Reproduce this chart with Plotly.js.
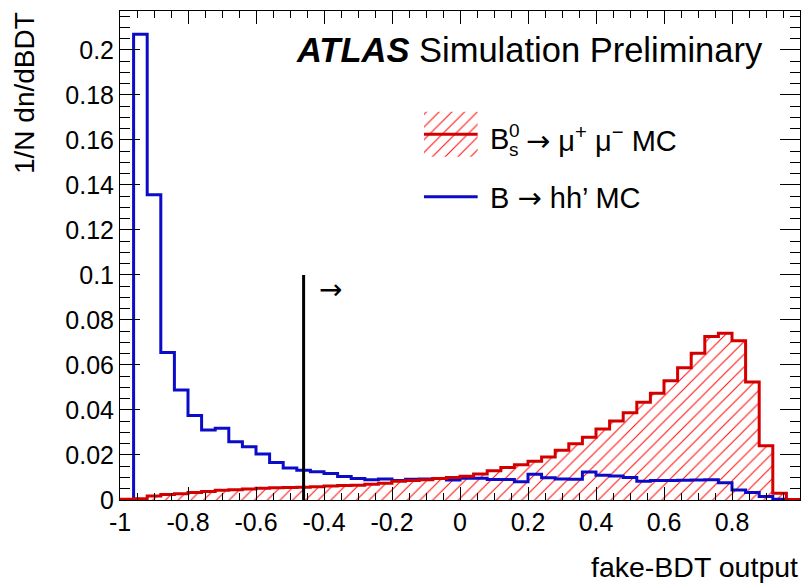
<!DOCTYPE html>
<html>
<head>
<meta charset="utf-8">
<script src="https://cdn.plot.ly/plotly-3.0.1.min.js"></script>
<style>html,body{margin:0;padding:0;background:#fff;}</style>
</head>
<body>
<div id="chart" style="width:803px;height:584px;"></div>
<script>
// ---- data ----
const binLow = -1;
const binWidth = 0.04;
// B_s^0 -> mu+ mu- MC (red, hatched), 50 bins from -1 to 1
const bsmumu = [0.0003,0.0005,0.0018,0.0024,0.0028,0.0033,0.0038,0.0043,0.0046,0.0049,
                0.0052,0.0054,0.0055,0.0057,0.0059,0.0062,0.0064,0.0066,0.0070,0.0074,
                0.0083,0.0087,0.0090,0.0096,0.0100,0.0105,0.0116,0.0130,0.0144,0.0157,
                0.0172,0.0191,0.0221,0.0250,0.0279,0.0316,0.0351,0.0388,0.0434,0.0474,
                0.0530,0.0588,0.0652,0.0726,0.0741,0.0708,0.0524,0.0241,0.0030,0.0002];
// B -> hh' MC (blue)
const bhh = [0.0000,0.2070,0.1356,0.0655,0.0489,0.0375,0.0311,0.0319,0.0259,0.0237,
             0.0204,0.0167,0.0142,0.0132,0.0125,0.0118,0.0104,0.0095,0.0090,0.0093,
             0.0087,0.0092,0.0093,0.0095,0.0089,0.0097,0.0097,0.0091,0.0091,0.0081,
             0.0114,0.0099,0.0093,0.0092,0.0124,0.0110,0.0107,0.0100,0.0083,0.0087,
             0.0087,0.0088,0.0089,0.0090,0.0077,0.0044,0.0033,0.0015,0.0003,0.0001];
const xTickVals = [-1,-0.8,-0.6,-0.4,-0.2,0,0.2,0.4,0.6,0.8,1];
const xTickText = ['-1','-0.8','-0.6','-0.4','-0.2','0','0.2','0.4','0.6','0.8','1'];
const cutValue = [-0.46];
const cutHeight = [0.1];
const ARW = '<span style="font-family:DejaVu Sans">\u2192</span>';
const seriesNames = ['B<sub>s</sub><sup>0</sup> \u2192 \u03bc<sup>+</sup> \u03bc<sup>\u2212</sup> MC', 'B ' + ARW + ' hh\u2019 MC'];

// ---- build step outlines ----
function stepXY(vals){
  const x=[binLow], y=[0];
  for(let i=0;i<vals.length;i++){ x.push(binLow+i*binWidth); y.push(vals[i]); }
  const xe = binLow+vals.length*binWidth;
  x.push(xe); y.push(vals[vals.length-1]);
  x.push(xe); y.push(0);
  return {x,y};
}
const RED='#d40000', BLUE='#0c0cc8';
const FONT='Liberation Sans, Arial, Helvetica, sans-serif';
const rs = stepXY(bsmumu), bs = stepXY(bhh);
const hatch = {shape:'/', fgcolor:'#ff1010', bgcolor:'rgba(0,0,0,0)', size:9, solidity:0.12, fillmode:'replace'};

const traces = [
  {x:rs.x, y:rs.y, mode:'lines', line:{shape:'hv', width:0, color:RED}, fill:'tozeroy',
   fillcolor:'rgba(0,0,0,0)', fillpattern:hatch, hoverinfo:'skip', showlegend:false},
  {x:bs.x, y:bs.y, mode:'lines', line:{shape:'hv', width:3, color:BLUE}, showlegend:false},
  {x:rs.x, y:rs.y, mode:'lines', line:{shape:'hv', width:3, color:RED}, showlegend:false},
  // legend keys drawn on an overlay axis (0..1 of plot area)
  {x:[0.447,0.526,0.526,0.447,0.447], y:[0.702,0.702,0.794,0.794,0.702], xaxis:'x2', yaxis:'y2',
   mode:'lines', line:{width:0}, fill:'toself', fillcolor:'rgba(0,0,0,0)', fillpattern:hatch, hoverinfo:'skip', showlegend:false},
  {x:[0.447,0.526], y:[0.748,0.748], xaxis:'x2', yaxis:'y2', mode:'lines', line:{width:3, color:RED}, hoverinfo:'skip', showlegend:false},
  {x:[0.447,0.526], y:[0.620,0.620], xaxis:'x2', yaxis:'y2', mode:'lines', line:{width:3, color:BLUE}, hoverinfo:'skip', showlegend:false}
];

const axisCommon = {
  showline:true, linecolor:'#000', linewidth:1, mirror:'allticks',
  ticks:'inside', tickcolor:'#000', tickwidth:1, showgrid:false, zeroline:false,
  tickfont:{family:FONT, size:25, color:'#000'}
};
const pxX = p => (p-120)/680, pxY = p => (500-p)/489;

const layout = {
  width:803, height:584,
  margin:{l:120, r:3, t:11, b:84},
  paper_bgcolor:'#fff', plot_bgcolor:'#fff',
  showlegend:false,
  xaxis:Object.assign({}, axisCommon, {range:[-1,1], tickmode:'array', tickvals:xTickVals, ticktext:xTickText,
     ticklen:13, minor:{tickmode:'linear', tick0:-1, dtick:0.05, ticklen:7, ticks:'inside', tickcolor:'#000', showgrid:false}}),
  yaxis:Object.assign({}, axisCommon, {range:[0,0.2173], tick0:0, dtick:0.02, ticklen:20,
     minor:{tick0:0, dtick:0.005, ticklen:10, ticks:'inside', tickcolor:'#000', showgrid:false}}),
  xaxis2:{overlaying:'x', range:[0,1], visible:false, fixedrange:true},
  yaxis2:{overlaying:'y', range:[0,1], visible:false, fixedrange:true},
  shapes:[{type:'line', xref:'x', yref:'y', x0:cutValue[0], x1:cutValue[0], y0:0, y1:cutHeight[0], line:{color:'#000', width:3}}],
  annotations:[
    {xref:'paper', yref:'paper', x:pxX(294), y:pxY(50), xanchor:'left', yanchor:'middle', showarrow:false,
     text:'<b><i>ATLAS</i></b> Simulation Preliminary', font:{family:FONT, size:34.5, color:'#000'}},
    {xref:'paper', yref:'paper', x:pxX(488), y:pxY(139), xanchor:'left', yanchor:'middle', showarrow:false,
     text:'B', font:{family:FONT, size:29, color:'#000'}},
    {xref:'paper', yref:'paper', x:pxX(507), y:pxY(149), xanchor:'left', yanchor:'middle', showarrow:false,
     text:'s', font:{family:FONT, size:19, color:'#000'}},
    {xref:'paper', yref:'paper', x:pxX(507), y:pxY(130), xanchor:'left', yanchor:'middle', showarrow:false,
     text:'0', font:{family:FONT, size:19, color:'#000'}},
    {xref:'paper', yref:'paper', x:pxX(524), y:pxY(139), xanchor:'left', yanchor:'middle', showarrow:false,
     text:ARW + ' \u03bc<sup>+</sup> \u03bc<sup>\u2212</sup> MC', font:{family:FONT, size:29, color:'#000'}},
    {xref:'paper', yref:'paper', x:pxX(488), y:pxY(198), xanchor:'left', yanchor:'middle', showarrow:false,
     text:seriesNames[1], font:{family:FONT, size:29, color:'#000'}},
    {xref:'paper', yref:'paper', x:pxX(330), y:pxY(289), xanchor:'center', yanchor:'middle', showarrow:false,
     text:ARW, font:{family:FONT, size:28, color:'#000'}},
    {xref:'paper', yref:'paper', x:pxX(25), y:pxY(10), xanchor:'center', yanchor:'top', textangle:-90, showarrow:false,
     text:'1/N dn/dBDT', font:{family:FONT, size:28, color:'#000'}},
    {xref:'paper', yref:'paper', x:1, y:pxY(567), xanchor:'right', yanchor:'middle', showarrow:false,
     text:'fake-BDT output', font:{family:FONT, size:28.5, color:'#000'}}
  ]
};
Plotly.newPlot('chart', traces, layout, {displayModeBar:false, staticPlot:true});
</script>
</body>
</html>
